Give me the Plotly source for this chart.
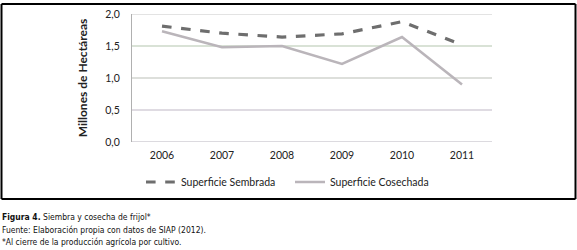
import plotly.graph_objects as go

years = ["2006", "2007", "2008", "2009", "2010", "2011"]
sembrada = [1.81, 1.70, 1.64, 1.69, 1.88, 1.52]
cosechada = [1.73, 1.48, 1.50, 1.22, 1.64, 0.90]
ytick_vals = [0.0, 0.5, 1.0, 1.5, 2.0]
ytick_text = ["0,0", "0,5", "1,0", "1,5", "2,0"]
grid_colors = ["#bab6bf", "#c0b8c6", "#bcc0b8", "#b3c6ae", "#c8c8c8"]

FONT = "Lato"
CAP_FONT = "DejaVu Sans Condensed"

fig = go.Figure()
fig.add_trace(go.Scatter(x=years, y=sembrada, mode="lines", name="Superficie Sembrada",
                         line=dict(color="#6e6e6e", width=3.2, dash="dash")))
fig.add_trace(go.Scatter(x=years, y=cosechada, mode="lines", name="Superficie Cosechada",
                         line=dict(color="#bab5ba", width=2.6)))

shapes = []
for v, c in zip(ytick_vals, grid_colors):
    shapes.append(dict(type="line", xref="paper", yref="y", x0=0, x1=1, y0=v, y1=v,
                       line=dict(color=c, width=1.2), layer="below"))
# outer frame (drawn in paper pixels converted to paper fractions)
L, R, T, B = -130.5/360, 443.5/360, (142-4)/128, (142-199)/128
for x0, y0, x1, y1 in [(L, T, R, T), (L, B, R, B), (L, B, L, T), (R, B, R, T)]:
    shapes.append(dict(type="line", xref="paper", yref="paper", x0=x0, y0=y0, x1=x1, y1=y1,
                       line=dict(color="black", width=2), layer="above"))

fig.update_layout(
    width=577, height=250,
    margin=dict(l=132, r=85, t=14, b=108, autoexpand=False),
    paper_bgcolor="white", plot_bgcolor="white",
    font=dict(family=FONT, size=11, color="#222222"),
    showlegend=True,
    legend=dict(orientation="h", x=9/360, y=-40/128, xanchor="left", yanchor="middle",
                font=dict(family=FONT, size=10.5, color="#222"),
                entrywidth=104, entrywidthmode="pixels", tracegroupgap=0),
    shapes=shapes,
    xaxis=dict(type="category", range=[-0.5, 5.5], showgrid=False, showline=False,
               ticks="", zeroline=False, tickfont=dict(size=10.5), ticklabelstandoff=5),
    yaxis=dict(range=[0, 2.0], tickvals=ytick_vals, ticktext=ytick_text, showgrid=False,
               zeroline=False, showline=True, linecolor="#b0b0b0", linewidth=1.2,
               ticks="", ticklabelstandoff=9, tickfont=dict(size=10.5),
               title=dict(text="<b>Millones de Hectáreas</b>", font=dict(size=12, family=FONT),
                          standoff=15)),
    annotations=[
        dict(xref="paper", yref="paper", x=-132/360, y=-(217-142)/128, xanchor="left", yanchor="middle",
             showarrow=False, align="left",
             text="<b>Figura 4.</b> Siembra y cosecha de frijol*",
             font=dict(family=CAP_FONT, size=8.5, color="#111")),
        dict(xref="paper", yref="paper", x=-132/360, y=-(230-142)/128, xanchor="left", yanchor="middle",
             showarrow=False, align="left",
             text="Fuente: Elaboración propia con datos de SIAP (2012).",
             font=dict(family=CAP_FONT, size=8.5, color="#111")),
        dict(xref="paper", yref="paper", x=-132/360, y=-(242-142)/128, xanchor="left", yanchor="middle",
             showarrow=False, align="left",
             text="*Al cierre de la producción agrícola por cultivo.",
             font=dict(family=CAP_FONT, size=8.5, color="#111")),
    ],
)

fig.write_html("out.html", config={"displayModeBar": False},
               post_script="document.body.style.margin='0';document.body.style.padding='0';")
